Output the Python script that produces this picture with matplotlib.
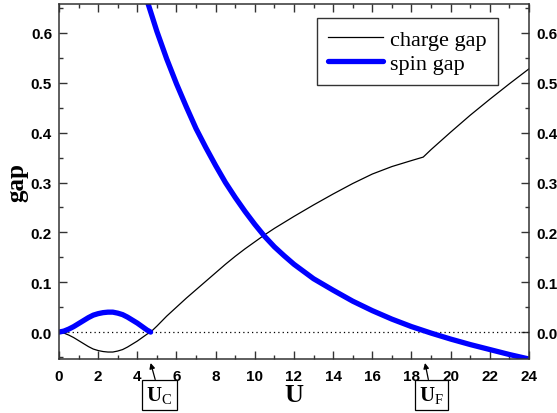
import matplotlib
matplotlib.use("Agg")
import matplotlib.pyplot as plt
from matplotlib.ticker import MultipleLocator

# low-U region: both gaps vanish at U = 0 and at U_c
u_low = [0.0, 0.25, 0.5, 0.75, 1.0, 1.25, 1.5, 1.75, 2.0, 2.25, 2.5, 2.75, 3.0,
         3.25, 3.5, 3.75, 4.0, 4.25, 4.5, 4.68]
spin_low = [0.0, 0.002, 0.006, 0.011, 0.017, 0.023, 0.029, 0.034, 0.037, 0.039,
            0.040, 0.040, 0.038, 0.035, 0.030, 0.024, 0.018, 0.011, 0.004, 0.0]
charge_low = [-s for s in spin_low]

# charge gap above U_c, kink at U_F
u_charge = [4.68, 5.0, 5.5, 6.0, 6.5, 7.0, 7.5, 8.0, 8.5, 9.0, 9.5, 10.0, 10.5,
            11.0, 11.5, 12.0, 13.0, 14.0, 15.0, 16.0, 17.0, 18.0, 18.6,
            19.0, 20.0, 21.0, 22.0, 23.0, 24.0]
charge_high = [0.0, 0.012, 0.032, 0.050, 0.068, 0.085, 0.102, 0.119, 0.136, 0.152,
               0.167, 0.181, 0.195, 0.208, 0.220, 0.232, 0.255, 0.277, 0.298,
               0.317, 0.332, 0.344, 0.351, 0.366, 0.401, 0.435, 0.467, 0.498, 0.528]

# spin gap branch above U_c
u_spin = [4.4, 5.0, 5.5, 6.0, 6.5, 7.0, 7.5, 8.0, 8.5, 9.0, 9.5, 10.0, 10.5,
          11.0, 11.5, 12.0, 13.0, 14.0, 15.0, 16.0, 17.0, 18.0, 19.0, 20.0,
          21.0, 22.0, 23.0, 24.0]
spin_high = [0.677, 0.603, 0.548, 0.498, 0.452, 0.408, 0.370, 0.334, 0.300, 0.270,
             0.242, 0.216, 0.192, 0.171, 0.153, 0.136, 0.107, 0.084, 0.062, 0.043,
             0.026, 0.011, -0.002, -0.014, -0.025, -0.035, -0.045, -0.054]

U_C = 4.68
U_F = 18.69


def draw():
    plt.rcParams["mathtext.fontset"] = "custom"
    plt.rcParams["mathtext.rm"] = "Liberation Serif"
    plt.rcParams["mathtext.bf"] = "Liberation Serif:bold"

    fig = plt.figure(figsize=(5.57, 4.14), dpi=100)
    ax = fig.add_axes([0.1059, 0.1304, 0.8438, 0.8575])

    ax.axhline(0, color="black", lw=0.9, ls=(0, (1, 2.5)))

    ax.plot(u_charge, charge_high, color="black", lw=0.9, label="charge gap")
    ax.plot(u_low, charge_low, color="black", lw=0.9)
    ax.plot(u_spin, spin_high, color="blue", lw=3.8, label="spin gap",
            solid_capstyle="round", solid_joinstyle="round")
    ax.plot(u_low, spin_low, color="blue", lw=3.8, solid_capstyle="round",
            solid_joinstyle="round")

    ax.set_xlim(0, 24)
    ax.set_ylim(-0.054, 0.658)
    ax.xaxis.set_major_locator(MultipleLocator(2))
    ax.xaxis.set_minor_locator(MultipleLocator(1))
    ax.yaxis.set_major_locator(MultipleLocator(0.1))
    ax.yaxis.set_minor_locator(MultipleLocator(0.05))
    ax.yaxis.set_major_formatter(plt.FormatStrFormatter("%.1f"))

    ax.tick_params(which="both", direction="in", top=True, right=True,
                   labelright=True, width=1, color="#333333")
    ax.tick_params(which="major", length=6, pad=5)
    ax.tick_params(axis="x", which="major", pad=7)
    ax.tick_params(which="minor", length=3)
    for t in ax.xaxis.get_major_ticks() + ax.yaxis.get_major_ticks():
        for lbl in (t.label1, t.label2):
            lbl.set_fontfamily("Liberation Sans")
            lbl.set_fontweight("bold")
            lbl.set_fontsize(11)
    for sp in ax.spines.values():
        sp.set_color("#333333")
        sp.set_linewidth(1.1)

    ax.set_xlabel("U", family="Liberation Serif", weight="bold", fontsize=19,
                  labelpad=0)
    ax.set_ylabel("gap", family="Liberation Serif", weight="bold", fontsize=18,
                  labelpad=2)

    leg = ax.legend(loc="upper right", bbox_to_anchor=(0.943, 0.973),
                    prop={"family": "Liberation Serif", "size": 16},
                    frameon=True, fancybox=False, handlelength=2.5,
                    borderpad=0.5, labelspacing=0.15, handletextpad=0.3,
                    borderaxespad=0.2)
    leg.get_frame().set_edgecolor("black")
    leg.get_frame().set_linewidth(1.0)

    box = dict(boxstyle="square,pad=0.2", fc="white", ec="black", lw=0.9)
    arrow = dict(arrowstyle="-|>", color="black", lw=0.9, mutation_scale=8,
                 shrinkA=0, shrinkB=0)
    ax.annotate(r"$\mathbf{U}_{\mathrm{C}}$", xy=(U_C, -0.062),
                xytext=(U_C + 0.45, -0.126), textcoords="data",
                ha="center", va="center", fontsize=15, bbox=box,
                arrowprops=arrow, annotation_clip=False)
    ax.annotate(r"$\mathbf{U}_{\mathrm{F}}$", xy=(U_F, -0.062),
                xytext=(U_F + 0.33, -0.126), textcoords="data",
                ha="center", va="center", fontsize=15, bbox=box,
                arrowprops=arrow, annotation_clip=False)

    fig.savefig("out.png", dpi=100)
    plt.close(fig)


def main():
    draw()


if __name__ == "__main__":
    main()
